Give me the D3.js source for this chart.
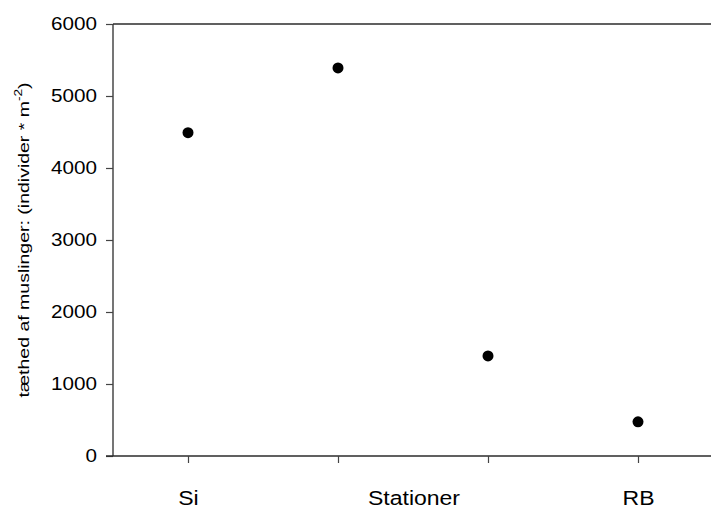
<!DOCTYPE html>
<html>
<head>
<meta charset="utf-8">
<script src="https://cdn.jsdelivr.net/npm/d3@7"></script>
<style>
  html, body { margin: 0; padding: 0; background: #fff; }
  svg { display: block; font-family: "Liberation Sans", Arial, sans-serif; }
</style>
</head>
<body>
<svg id="chart" width="711" height="512"></svg>
<script>
// Mussel density per station
const stations = ["Si", "S2", "S3", "RB"];
const density = [4490, 5390, 1390, 475];
const categoryLabels = ["Si", "", "", "RB"];
const yTicks = [0, 1000, 2000, 3000, 4000, 5000, 6000];

const svg = d3.select("#chart");
const plotLeft = 113, plotRight = 713, plotTop = 24, plotBottom = 456;
const font = "Liberation Sans, Arial, sans-serif";
const wide = 1.18; // glyphs are drawn slightly wider than the font's natural width

const x = d3.scalePoint().domain(stations).range([plotLeft, plotRight]).padding(0.5);
const y = d3.scaleLinear().domain([0, 6000]).range([plotBottom, plotTop]);

const axisColor = "#2b2b2b";

// frame top line
svg.append("line")
  .attr("x1", plotLeft).attr("x2", 711)
  .attr("y1", plotTop).attr("y2", plotTop)
  .attr("stroke", axisColor).attr("stroke-width", 1.3);

// y axis
const yAxis = svg.append("g")
  .attr("transform", `translate(${plotLeft},0)`)
  .call(d3.axisLeft(y).tickValues(yTicks).tickSize(7).tickFormat(d3.format("d")));
yAxis.select(".domain").attr("stroke", axisColor).attr("stroke-width", 1.3).attr("d", `M0,${plotTop}V${plotBottom}`);
yAxis.selectAll(".tick line").attr("stroke", "#444").attr("stroke-width", 1.2);
yAxis.selectAll(".tick text")
  .attr("font-size", 17.5).attr("font-family", font).attr("fill", "#000")
  .attr("x", -16 / wide)
  .attr("transform", `scale(${wide},1)`);

// x axis
const xAxis = svg.append("g")
  .attr("transform", `translate(0,${plotBottom})`)
  .call(d3.axisBottom(x).tickSize(7).tickFormat((d, i) => categoryLabels[i]));
xAxis.select(".domain").attr("stroke", axisColor).attr("stroke-width", 1.3).attr("d", `M${plotLeft - 7},0H711`);
xAxis.selectAll(".tick line").attr("stroke", "#444").attr("stroke-width", 1.2);
xAxis.selectAll(".tick text")
  .attr("font-size", 19.5).attr("font-family", font).attr("fill", "#000")
  .attr("y", 49).attr("dy", null)
  .attr("transform", `scale(${wide},1)`);

// x axis title, centred on the category axis
svg.append("text")
  .attr("transform", `translate(${(x("S2") + x("S3")) / 2 + 1},505) scale(${wide},1)`)
  .attr("text-anchor", "middle")
  .attr("font-size", 19.5)
  .attr("font-family", font)
  .text("Stationer");

// y axis title with superscript
const yTitle = svg.append("text")
  .attr("transform", `translate(29,240) rotate(-90) scale(1.3,1)`)
  .attr("text-anchor", "middle")
  .attr("font-family", font)
  .attr("font-size", 15);
yTitle.append("tspan").text("tæthed af muslinger: (individer * m");
yTitle.append("tspan").attr("font-size", 10.5).attr("dy", -7).text("-2");
yTitle.append("tspan").attr("dy", 7).text(")");

// data points
svg.append("g").selectAll("circle")
  .data(stations)
  .join("circle")
  .attr("cx", d => x(d))
  .attr("cy", (d, i) => y(density[i]))
  .attr("r", 5.5)
  .attr("fill", "#000");
</script>
</body>
</html>
